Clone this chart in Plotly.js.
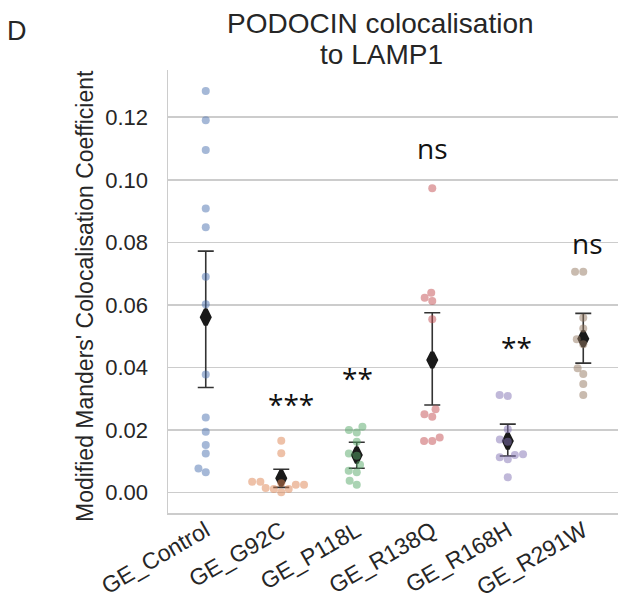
<!DOCTYPE html>
<html>
<head>
<meta charset="utf-8">
<script src="https://cdn.plot.ly/plotly-3.0.1.min.js"></script>
<style>html,body{margin:0;padding:0;background:#fff;}#chart{width:618px;height:609px;}</style>
</head>
<body>
<div id="chart"></div>
<script>
// ---- data ----
const categories = ["GE_Control", "GE_G92C", "GE_P118L", "GE_R138Q", "GE_R168H", "GE_R291W"];
const ctrlVals  = [0.1284, 0.1190, 0.1095, 0.0908, 0.0848, 0.0690, 0.0602, 0.0378, 0.0240, 0.0195, 0.0152, 0.0125, 0.0077, 0.0065];
const g92cVals  = [0.0166, 0.0126, 0.0035, 0.0035, 0.0030, 0.0025, 0.0025, 0.0015, 0.0012, 0.0012, 0.0001];
const p118lVals = [0.0211, 0.0200, 0.0192, 0.0163, 0.0125, 0.0118, 0.0089, 0.0070, 0.0065, 0.0038, 0.0025];
const r138qVals = [0.0973, 0.0639, 0.0623, 0.0613, 0.0554, 0.0267, 0.0251, 0.0243, 0.0176, 0.0165, 0.0165];
const r168hVals = [0.0312, 0.0309, 0.0203, 0.0170, 0.0163, 0.0123, 0.0120, 0.0113, 0.0107, 0.0049];
const r291wVals = [0.0706, 0.0706, 0.0559, 0.0525, 0.0490, 0.0474, 0.0398, 0.0379, 0.0347, 0.0312];
const groupVals = [ctrlVals, g92cVals, p118lVals, r138qVals, r168hVals, r291wVals];
const means   = [0.0561, 0.0046, 0.0120, 0.0424, 0.0165, 0.0492];
const ciLow   = [0.0336, 0.0017, 0.0078, 0.0280, 0.0117, 0.0414];
const ciHigh  = [0.0772, 0.0075, 0.0161, 0.0575, 0.0219, 0.0573];
const sigLabels = ["", "***", "**", "ns", "**", "ns"];
const sigY      = [null, 0.0282, 0.0367, 0.1101, 0.0467, 0.0798];
const yTicks = [0, 0.02, 0.04, 0.06, 0.08, 0.10, 0.12];
const palette = ["#4C72B0", "#DD8452", "#55A868", "#C44E52", "#8172B3", "#937860"];

// ---- layout geometry ----
const W = 618, H = 609;
const M = {l: 168, r: 0, t: 70, b: 96};
const xRange = [-0.5, 5.46];
const yRange = [-0.0065, 0.1351];
const plotW = W - M.l - M.r, plotH = H - M.t - M.b;
const pxPerX = plotW / (xRange[1] - xRange[0]);
const pxPerY = plotH / (yRange[1] - yRange[0]);
const sigXShift = [0, 10, 1, 0, 9, 4];

// simple beeswarm (seaborn-like) computed in pixel space
function swarm(vals, d) {
  const idx = vals.map((v, i) => i).sort((a, b) => vals[a] - vals[b]);
  const placed = [];
  const out = new Array(vals.length);
  idx.forEach(i => {
    const y = vals[i] * pxPerY;
    const nb = placed.filter(p => Math.abs(p.y - y) < d);
    const cands = [0];
    nb.forEach(p => {
      const dx = Math.sqrt(d * d - (p.y - y) * (p.y - y));
      cands.push(p.x - dx, p.x + dx);
    });
    cands.sort((a, b) => (Math.abs(a) - Math.abs(b)) || (a - b));
    let xSel = 0;
    for (const c of cands) {
      if (nb.every(p => Math.hypot(p.x - c, p.y - y) >= d - 1e-6)) { xSel = c; break; }
    }
    placed.push({x: xSel, y: y});
    out[i] = xSel;
  });
  return out;
}

const traces = [];
// means with CI
traces.push({
  type: "scatter", mode: "markers",
  x: categories.map((c, i) => i), y: means,
  marker: {symbol: "diamond-tall", size: 11, color: "#1a1a1a", line: {color: "#1a1a1a", width: 4}},
  error_y: {type: "data", symmetric: false,
    array: means.map((m, i) => ciHigh[i] - m),
    arrayminus: means.map((m, i) => m - ciLow[i]),
    color: "#333333", thickness: 1.6, width: 8},
  hoverinfo: "skip", showlegend: false
});
// points
groupVals.forEach((vals, g) => {
  const offs = swarm(vals, 8.2);
  traces.push({
    type: "scatter", mode: "markers",
    x: vals.map((v, i) => g + offs[i] / pxPerX), y: vals,
    marker: {size: 8, color: palette[g], opacity: 0.5},
    showlegend: false, hoverinfo: "y"
  });
});

const txt = "#262626";
const annotations = [];
sigLabels.forEach((s, i) => {
  if (!s) return;
  annotations.push({x: i, y: sigY[i], xref: "x", yref: "y", text: s, showarrow: false,
    xanchor: "center", yanchor: "middle", xshift: sigXShift[i],
    font: {family: "Open Sans", size: 28, color: "#111"}});
});
annotations.push({xref: "paper", yref: "paper", x: (380 - M.l) / plotW, y: (H - M.b - 23) / plotH,
  text: "PODOCIN colocalisation", showarrow: false, xanchor: "center", yanchor: "middle",
  font: {family: "Liberation Sans", size: 28, color: txt}});
annotations.push({xref: "paper", yref: "paper", x: (381 - M.l) / plotW, y: (H - M.b - 54) / plotH,
  text: "to LAMP1", showarrow: false, xanchor: "center", yanchor: "middle",
  font: {family: "Liberation Sans", size: 28, color: txt}});
annotations.push({xref: "paper", yref: "paper", x: (17 - M.l) / plotW, y: (H - M.b - 31) / plotH,
  text: "D", showarrow: false, xanchor: "center", yanchor: "middle",
  font: {family: "Liberation Sans", size: 27, color: txt}});
annotations.push({xref: "paper", yref: "paper", x: (85 - M.l) / plotW, y: (H - M.b - 296) / plotH,
  text: "Modified Manders' Colocalisation Coefficient", textangle: -90, showarrow: false,
  xanchor: "center", yanchor: "middle",
  font: {family: "Liberation Sans", size: 23, color: txt}});

const layout = {
  width: W, height: H, margin: M,
  paper_bgcolor: "#fff", plot_bgcolor: "#fff",
  font: {family: "Liberation Sans", color: txt},
  showlegend: false,
  xaxis: {range: xRange, tickvals: categories.map((c, i) => i), ticktext: categories,
    tickangle: -30, showgrid: false, zeroline: false, showline: true,
    linecolor: "#cccccc", linewidth: 1.5, ticks: "", ticklabelstandoff: -6,
    tickfont: {family: "Liberation Sans", size: 23, color: txt}},
  yaxis: {range: yRange, tickvals: yTicks, tickformat: ".2f", showgrid: true,
    gridcolor: "#cccccc", gridwidth: 1.5, zeroline: false, showline: true,
    linecolor: "#cccccc", linewidth: 1.5, ticks: "", ticklabelstandoff: 14,
    tickfont: {family: "Liberation Sans", size: 22, color: txt}},
  annotations: annotations
};
Plotly.newPlot("chart", traces, layout, {displayModeBar: false, staticPlot: true});
</script>
</body>
</html>
